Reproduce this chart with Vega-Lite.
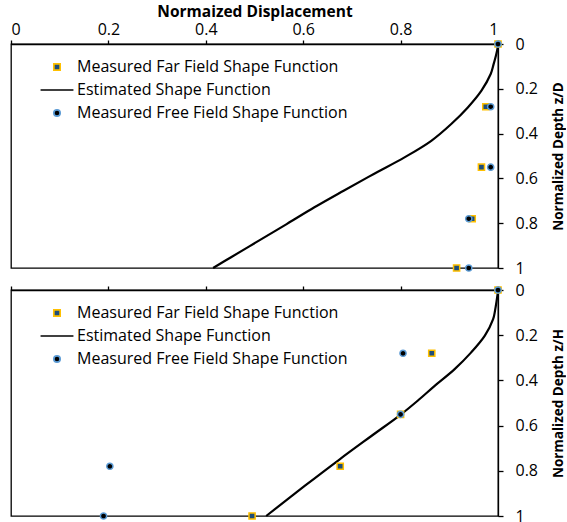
{
  "$schema": "https://vega.github.io/schema/vega-lite/v6.json",
  "background": "white",
  "padding": {"left": 9, "top": 3, "right": 0, "bottom": 0},
  "spacing": 4,
  "config": {
    "view": {"stroke": "#000", "strokeWidth": 1.3},
    "font": "Open Sans",
    "axis": {"domainColor": "#000", "tickColor": "#000", "labelColor": "#000", "titleColor": "#000", "grid": false, "labelFont": "Open Sans", "labelFontSize": 16, "tickSize": 5, "domainWidth": 1.3, "tickWidth": 1.3, "titleFont": "Open Sans"},
    "legend": {"padding": 0, "labelFont": "Open Sans", "labelFontSize": 16, "labelColor": "#000", "labelLimit": 0, "symbolStrokeWidth": 1.7}
  },
  "datasets": {
    "top_pts": [
      {"series": "Measured Far Field Shape Function", "d": 1.0, "z": 0.0},
      {"series": "Measured Far Field Shape Function", "d": 0.975, "z": 0.28},
      {"series": "Measured Far Field Shape Function", "d": 0.966, "z": 0.55},
      {"series": "Measured Far Field Shape Function", "d": 0.947, "z": 0.78},
      {"series": "Measured Far Field Shape Function", "d": 0.915, "z": 1.0},
      {"series": "Measured Free Field Shape Function", "d": 1.0, "z": 0.0},
      {"series": "Measured Free Field Shape Function", "d": 0.985, "z": 0.28},
      {"series": "Measured Free Field Shape Function", "d": 0.985, "z": 0.55},
      {"series": "Measured Free Field Shape Function", "d": 0.94, "z": 0.78},
      {"series": "Measured Free Field Shape Function", "d": 0.94, "z": 1.0}
    ],
    "top_curve": [
      {"d": 1.0, "z": 0.0},
      {"d": 0.999, "z": 0.02},
      {"d": 0.996, "z": 0.05},
      {"d": 0.991, "z": 0.09},
      {"d": 0.985, "z": 0.134},
      {"d": 0.966, "z": 0.208},
      {"d": 0.938, "z": 0.283},
      {"d": 0.904, "z": 0.357},
      {"d": 0.863, "z": 0.432},
      {"d": 0.808, "z": 0.506},
      {"d": 0.745, "z": 0.58},
      {"d": 0.683, "z": 0.655},
      {"d": 0.623, "z": 0.729},
      {"d": 0.566, "z": 0.804},
      {"d": 0.509, "z": 0.878},
      {"d": 0.451, "z": 0.953},
      {"d": 0.415, "z": 1.0}
    ],
    "bot_pts": [
      {"series": "Measured Far Field Shape Function", "d": 1.0, "z": 0.0},
      {"series": "Measured Far Field Shape Function", "d": 0.864, "z": 0.28},
      {"series": "Measured Far Field Shape Function", "d": 0.80, "z": 0.55},
      {"series": "Measured Far Field Shape Function", "d": 0.676, "z": 0.78},
      {"series": "Measured Far Field Shape Function", "d": 0.495, "z": 1.0},
      {"series": "Measured Free Field Shape Function", "d": 1.0, "z": 0.0},
      {"series": "Measured Free Field Shape Function", "d": 0.805, "z": 0.28},
      {"series": "Measured Free Field Shape Function", "d": 0.80, "z": 0.55},
      {"series": "Measured Free Field Shape Function", "d": 0.203, "z": 0.78},
      {"series": "Measured Free Field Shape Function", "d": 0.19, "z": 1.0}
    ],
    "bot_curve": [
      {"d": 1.0, "z": 0.0},
      {"d": 0.999, "z": 0.02},
      {"d": 0.997, "z": 0.05},
      {"d": 0.994, "z": 0.09},
      {"d": 0.99, "z": 0.129},
      {"d": 0.973, "z": 0.202},
      {"d": 0.945, "z": 0.276},
      {"d": 0.911, "z": 0.35},
      {"d": 0.87, "z": 0.424},
      {"d": 0.835, "z": 0.49},
      {"d": 0.801, "z": 0.55},
      {"d": 0.74, "z": 0.646},
      {"d": 0.675, "z": 0.749},
      {"d": 0.603, "z": 0.867},
      {"d": 0.524, "z": 1.0}
    ]
  },
  "resolve": {
    "scale": {"x": "independent", "y": "independent", "fill": "independent", "stroke": "independent", "shape": "independent"},
    "legend": {"fill": "independent", "stroke": "independent", "shape": "independent"}
  },
  "vconcat": [
    {
      "width": 487,
      "height": 224,
      "layer": [
        {
          "data": {"name": "top_curve"},
          "mark": {"type": "line", "color": "#000", "strokeWidth": 2.2, "interpolate": "catmull-rom"},
          "encoding": {
            "x": {"field": "d", "type": "quantitative", "scale": {"domain": [0, 1], "nice": false},
              "axis": {"orient": "top", "title": "Normaized Displacement", "titleFontWeight": "bold", "titleFontSize": 15.5, "titlePadding": 2, "labelPadding": 3, "tickSize": 4, "values": [0, 0.2, 0.4, 0.6, 0.8, 1], "format": "~g"}},
            "y": {"field": "z", "type": "quantitative", "scale": {"domain": [0, 1], "reverse": true, "nice": false},
              "axis": {"orient": "right", "title": "Normalized Depth z/D", "titleAngle": 270, "titleBaseline": "top", "titleFontWeight": "bold", "titleFontSize": 13.5, "titlePadding": 14, "labelPadding": 12, "values": [0, 0.2, 0.4, 0.6, 0.8, 1], "format": "~g"}},
            "order": {"field": "z", "type": "quantitative"}
          }
        },
        {
          "data": {"name": "top_pts"},
          "mark": {"type": "point", "filled": true, "opacity": 1, "size": 38, "strokeWidth": 1.5},
          "encoding": {
            "x": {"field": "d", "type": "quantitative"},
            "y": {"field": "z", "type": "quantitative"},
            "shape": {"field": "series", "type": "nominal",
              "scale": {"domain": ["Measured Far Field Shape Function", "Estimated Shape Function", "Measured Free Field Shape Function"], "range": ["square", "M-5.2,0H5.2", "circle"]},
              "legend": {"orient": "none", "legendX": 38, "legendY": 15, "title": null, "symbolSize": 40, "labelOffset": 12, "rowPadding": 7}},
            "fill": {"field": "series", "type": "nominal",
              "scale": {"domain": ["Measured Far Field Shape Function", "Estimated Shape Function", "Measured Free Field Shape Function"], "range": ["#1F4E79", "transparent", "#000000"]},
              "legend": {"orient": "none", "legendX": 38, "legendY": 15, "title": null, "symbolSize": 40, "labelOffset": 12, "rowPadding": 7}},
            "stroke": {"field": "series", "type": "nominal",
              "scale": {"domain": ["Measured Far Field Shape Function", "Estimated Shape Function", "Measured Free Field Shape Function"], "range": ["#FFC000", "#000000", "#5B9BD5"]},
              "legend": {"orient": "none", "legendX": 38, "legendY": 15, "title": null, "symbolSize": 40, "labelOffset": 12, "rowPadding": 7}}
          }
        }
      ]
    },
    {
      "width": 487,
      "height": 226,
      "layer": [
        {
          "data": {"name": "bot_curve"},
          "mark": {"type": "line", "color": "#000", "strokeWidth": 2.2, "interpolate": "catmull-rom"},
          "encoding": {
            "x": {"field": "d", "type": "quantitative", "scale": {"domain": [0, 1], "nice": false},
              "axis": {"orient": "top", "title": null, "labels": false, "tickSize": 4, "values": [0, 0.2, 0.4, 0.6, 0.8, 1]}},
            "y": {"field": "z", "type": "quantitative", "scale": {"domain": [0, 1], "reverse": true, "nice": false},
              "axis": {"orient": "right", "title": "Normalized Depth z/H", "titleAngle": 270, "titleBaseline": "top", "titleFontWeight": "bold", "titleFontSize": 13.5, "titlePadding": 14, "labelPadding": 12, "values": [0, 0.2, 0.4, 0.6, 0.8, 1], "format": "~g"}},
            "order": {"field": "z", "type": "quantitative"}
          }
        },
        {
          "data": {"name": "bot_pts"},
          "mark": {"type": "point", "filled": true, "opacity": 1, "size": 38, "strokeWidth": 1.5},
          "encoding": {
            "x": {"field": "d", "type": "quantitative"},
            "y": {"field": "z", "type": "quantitative"},
            "shape": {"field": "series", "type": "nominal",
              "scale": {"domain": ["Measured Far Field Shape Function", "Estimated Shape Function", "Measured Free Field Shape Function"], "range": ["square", "M-5.2,0H5.2", "circle"]},
              "legend": {"orient": "none", "legendX": 38, "legendY": 15, "title": null, "symbolSize": 40, "labelOffset": 12, "rowPadding": 7}},
            "fill": {"field": "series", "type": "nominal",
              "scale": {"domain": ["Measured Far Field Shape Function", "Estimated Shape Function", "Measured Free Field Shape Function"], "range": ["#1F4E79", "transparent", "#000000"]},
              "legend": {"orient": "none", "legendX": 38, "legendY": 15, "title": null, "symbolSize": 40, "labelOffset": 12, "rowPadding": 7}},
            "stroke": {"field": "series", "type": "nominal",
              "scale": {"domain": ["Measured Far Field Shape Function", "Estimated Shape Function", "Measured Free Field Shape Function"], "range": ["#FFC000", "#000000", "#5B9BD5"]},
              "legend": {"orient": "none", "legendX": 38, "legendY": 15, "title": null, "symbolSize": 40, "labelOffset": 12, "rowPadding": 7}}
          }
        }
      ]
    }
  ]
}
